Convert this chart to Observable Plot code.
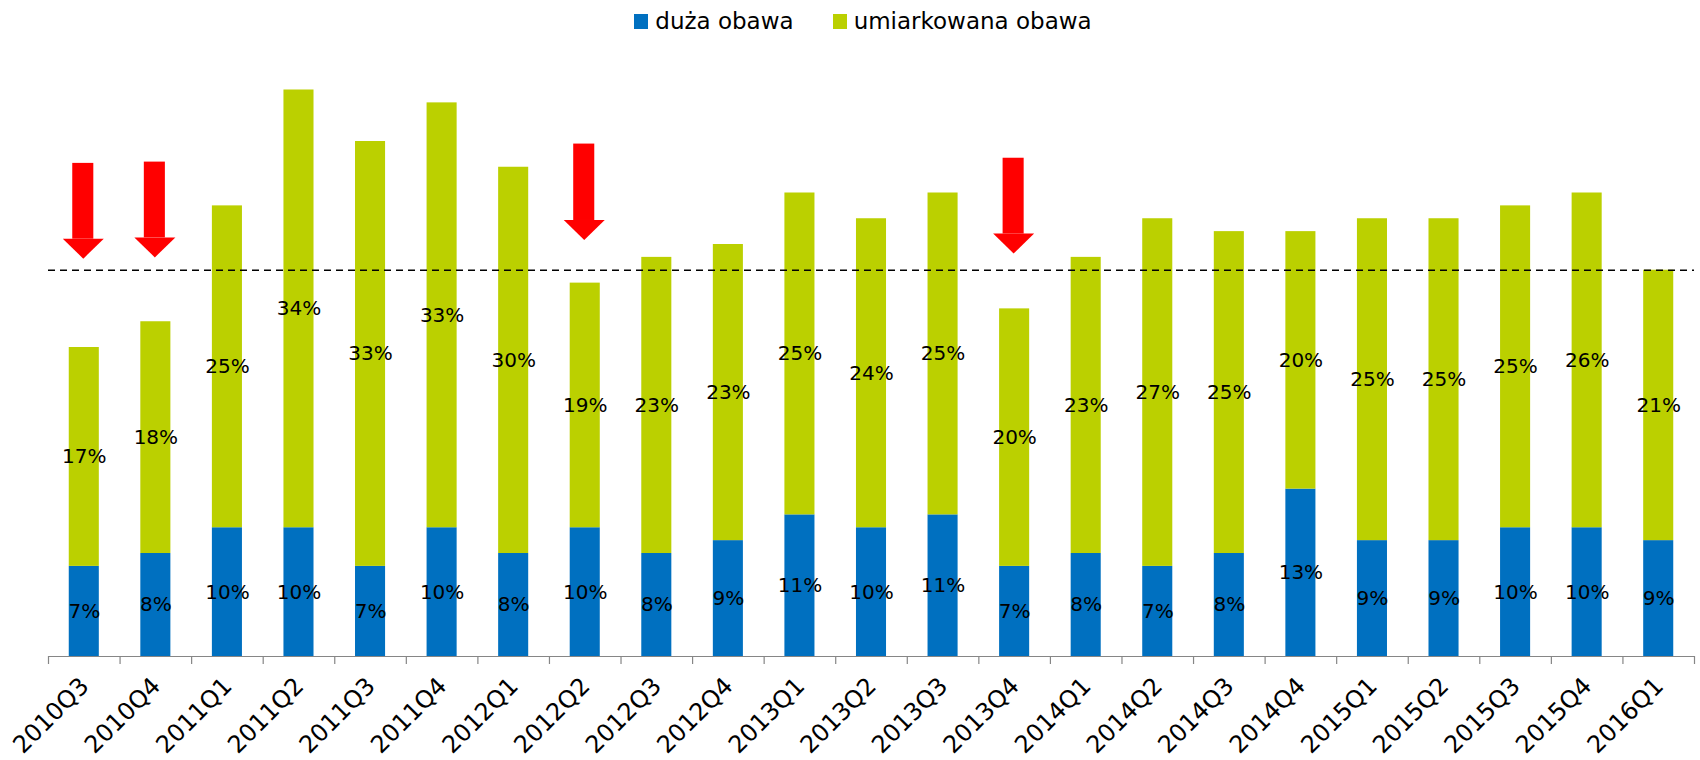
<!DOCTYPE html>
<html>
<head>
<meta charset="utf-8">
<script src="https://cdn.jsdelivr.net/npm/d3@7"></script>
<script src="https://cdn.jsdelivr.net/npm/@observablehq/plot@0.6"></script>
<style>
  html, body { margin: 0; padding: 0; background: #fff; }
  body { width: 1700px; height: 760px; overflow: hidden; font-family: "DejaVu Sans", sans-serif; }
  #legend { height: 38px; padding-top: 4px; display: flex; align-items: center; justify-content: center; padding-left: 26px; box-sizing: border-box; font-size: 23px; color: #000; }
  .item { display: flex; align-items: center; }
  .item + .item { margin-left: 39px; }
  .sw { width: 14px; height: 15px; margin-right: 7px; }
  #chart svg { display: block; overflow: visible; }
</style>
</head>
<body>
<div id="legend"></div>
<div id="chart"></div>
<script>
// ---- data ----
const quarters = ["2010Q3","2010Q4","2011Q1","2011Q2","2011Q3","2011Q4","2012Q1","2012Q2","2012Q3","2012Q4","2013Q1","2013Q2","2013Q3","2013Q4","2014Q1","2014Q2","2014Q3","2014Q4","2015Q1","2015Q2","2015Q3","2015Q4","2016Q1"];
const duzaObawa = [7,8,10,10,7,10,8,10,8,9,11,10,11,7,8,7,8,13,9,9,10,10,9];
const umiarkowanaObawa = [17,18,25,34,33,33,30,19,23,23,25,24,25,20,23,27,25,20,25,25,25,26,21];
const seriesNames = ["duża obawa", "umiarkowana obawa"];
const seriesColors = ["#0070C0", "#BBD000"];
const referenceLevel = 30;
const arrowQuarters = ["2010Q3","2010Q4","2012Q2","2013Q4"];
const arrowTop = [38.3, 38.4, 39.8, 38.7];
const arrowTip = [30.9, 31.0, 32.35, 31.3];

// ---- legend ----
const legend = document.getElementById("legend");
seriesNames.forEach((name, i) => {
  const it = document.createElement("div");
  it.className = "item";
  it.innerHTML = `<span class="sw" style="background:${seriesColors[i]}"></span><span>${name}</span>`;
  legend.appendChild(it);
});

// ---- table ----
const rows = [];
quarters.forEach((q, i) => {
  rows.push({q, series: seriesNames[0], y1: 0, y2: duzaObawa[i], v: duzaObawa[i]});
  rows.push({q, series: seriesNames[1], y1: duzaObawa[i], y2: duzaObawa[i] + umiarkowanaObawa[i], v: umiarkowanaObawa[i]});
});
const arrows = arrowQuarters.map((q, i) => ({q, top: arrowTop[i], tip: arrowTip[i]}));

const W = 1700, H = 722, ML = 48, MR = 6, MB = 104, MT = 0;
const yMax = 48;
const pxPerUnit = (H - MB - MT) / yMax;
const step = (W - ML - MR) / quarters.length;
const headH = 20;

const headSymbol = {
  draw(ctx, size) {
    const r = Math.sqrt(size / Math.PI);
    const h = r * 20 / 20.5;
    ctx.moveTo(0, 0);
    ctx.lineTo(-r, -h);
    ctx.lineTo(r, -h);
    ctx.closePath();
  }
};

const chart = Plot.plot({
  width: W, height: H,
  marginLeft: ML, marginRight: MR, marginTop: MT, marginBottom: MB,
  style: {fontFamily: "DejaVu Sans", background: "#fff"},
  x: {domain: quarters, paddingInner: 0.58, paddingOuter: 0.29, round: false, axis: null},
  y: {domain: [0, yMax], axis: null},
  color: {domain: seriesNames, range: seriesColors},
  marks: [
    Plot.barY(rows, {x: "q", y1: "y1", y2: "y2", fill: "series"}),
    Plot.ruleY([referenceLevel], {stroke: "#000", strokeWidth: 1.6, strokeDasharray: "7,5"}),
    Plot.ruleY([0], {stroke: "#868686", strokeWidth: 1.2}),
    Plot.ruleX(quarters, {x: d => d, y1: 0, y2: -8 / pxPerUnit, stroke: "#868686", strokeWidth: 1.2, dx: -step / 2}),
    Plot.ruleX(quarters.slice(-1), {x: d => d, y1: 0, y2: -8 / pxPerUnit, stroke: "#868686", strokeWidth: 1.2, dx: step / 2}),
    Plot.text(rows, {x: "q", y: d => (d.y1 + d.y2) / 2, text: d => d.v + "%", fontSize: 20, fill: "#000"}),
    Plot.text(quarters, {x: d => d, y: 0, text: d => d, rotate: -45, textAnchor: "end", lineAnchor: "bottom", dy: 31, dx: 6, fontSize: 24, fill: "#000"}),
    Plot.barY(arrows, {x: "q", y1: d => d.tip + (headH - 0.5) / pxPerUnit, y2: "top", fill: "#FF0000", insetLeft: 4.5, insetRight: 4.5, dx: -1}),
    Plot.dot(arrows, {x: "q", y: "tip", symbol: headSymbol, r: 20.5, fill: "#FF0000", dx: -1})
  ]
});
document.getElementById("chart").appendChild(chart);
</script>
</body>
</html>
